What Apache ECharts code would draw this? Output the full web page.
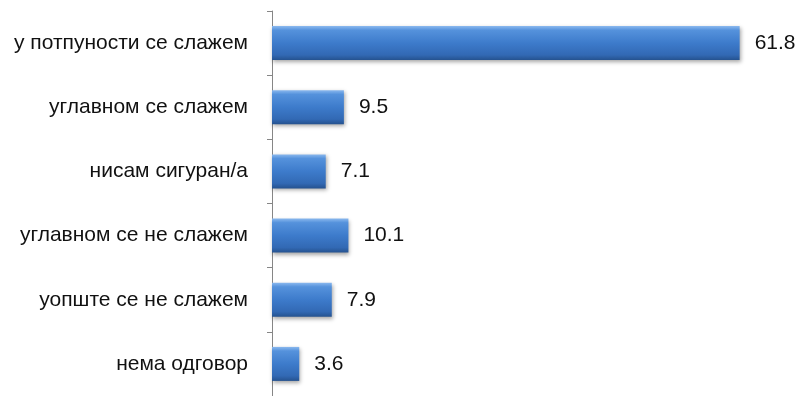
<!DOCTYPE html>
<html>
<head>
<meta charset="utf-8">
<script src="https://cdn.jsdelivr.net/npm/echarts@6/dist/echarts.min.js"></script>
<style>
  html, body { margin: 0; padding: 0; background: #fff; }
  #chart { width: 798px; height: 396px; }
</style>
</head>
<body>
<div id="chart"></div>
<script>
// Data
const categories = ['у потпуности се слажем', 'углавном се слажем', 'нисам сигуран/а', 'углавном се не слажем', 'уопште се не слажем', 'нема одговор'];
const values = [61.8, 9.5, 7.1, 10.1, 7.9, 3.6];

const chart = echarts.init(document.getElementById('chart'));

// Bevelled blue bar look
const barGradient = new echarts.graphic.LinearGradient(0, 0, 0, 1, [
    { offset: 0, color: '#8ab8ee' },
    { offset: 0.12, color: '#5592dc' },
    { offset: 0.5, color: '#3d7bcb' },
    { offset: 0.85, color: '#3269b4' },
    { offset: 1, color: '#25528f' }
]);

const option = {
    animation: false,
    grid: {
        left: 272,
        right: 19,
        top: 11,
        bottom: -4
    },
    xAxis: {
        type: 'value',
        min: 0,
        max: 67,
        show: false
    },
    yAxis: {
        type: 'category',
        data: categories,
        inverse: true,
        axisLine: { show: true, lineStyle: { color: '#868686', width: 1 } },
        axisTick: { show: true, length: 5, lineStyle: { color: '#868686' } },
        axisLabel: {
            margin: 24,
            fontFamily: 'Liberation Sans, Arial, sans-serif',
            fontSize: 21,
            color: '#111'
        }
    },
    series: [{
        type: 'bar',
        data: values,
        barWidth: 34,
        itemStyle: {
            color: barGradient,
            shadowColor: 'rgba(0, 0, 0, 0.35)',
            shadowBlur: 4,
            shadowOffsetX: 1,
            shadowOffsetY: 2
        },
        label: {
            show: true,
            position: 'right',
            distance: 15,
            fontFamily: 'Liberation Sans, Arial, sans-serif',
            fontSize: 21,
            color: '#111',
            formatter: p => p.value.toFixed(1)
        }
    }]
};

chart.setOption(option);
</script>
</body>
</html>
